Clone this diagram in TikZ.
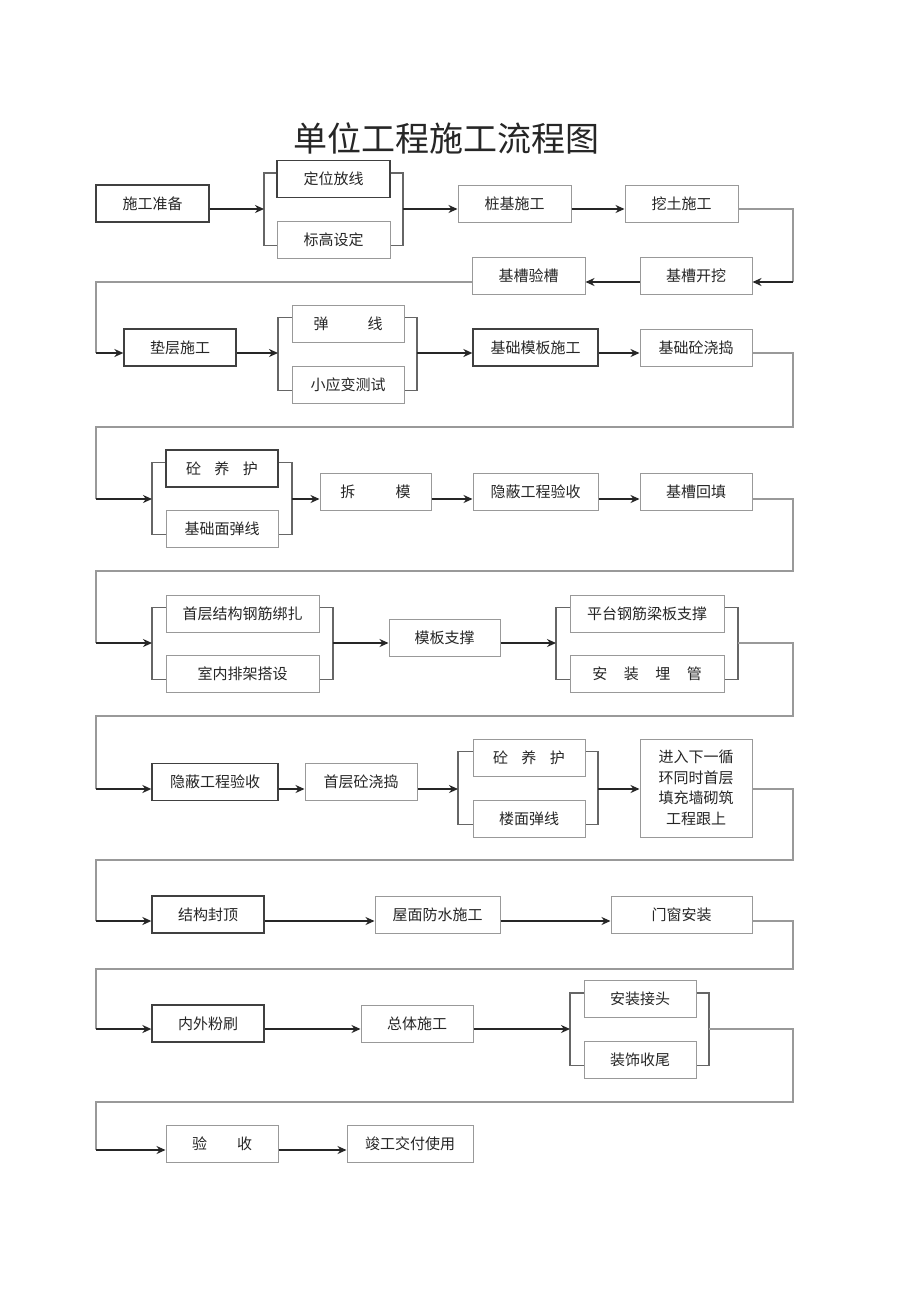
\documentclass[tikz,border=0pt]{standalone}
\usepackage{fontspec}
\newfontfamily\cjk{Noto Sans CJK SC}
\usepackage{tikz}
\usetikzlibrary{calc, positioning, arrows.meta}

\begin{document}
\begin{tikzpicture}[>={Stealth[length=9pt,width=8pt]}, x=1pt, y=-1pt,
    kuang/.style={draw=black!40, line width=1pt, fill=white, inner sep=0pt,
        minimum height=37pt, text=black!85, font=\cjk\fontsize{15}{18}\selectfont},
    shen/.style={kuang, draw=black!75, line width=1.3pt},
    kuo/.style={draw=black!60, line width=1.1pt},
    jt/.style={->, draw=black!85, line width=1.7pt},
    hui/.style={draw=black!40, line width=1.2pt}]
    % 页面范围
    \fill[white] (0,0) rectangle (920,1301);
    % 标题
    \node[font=\cjk\fontsize{34}{40}\selectfont, text=black!85] (biaoti) at (446,138) {单位工程施工流程图};

    % 各行箭头高度、折返线位置
    \coordinate (L) at (96,0);
    \coordinate (R) at (793,0);
    \foreach \n/\y in {1/209, 2/282, 3/353, 4/499, 5/643, 6/789, 7/921, 8/1029, 9/1150}
        \coordinate (r\n) at (0,\y);
    \foreach \n/\y in {1/427, 2/571, 3/716, 4/860, 5/969, 6/1102}
        \coordinate (h\n) at (0,\y);
    % 并列工序的括线
    \coordinate (k1l) at (264,209); \coordinate (k1r) at (403,209);
    \coordinate (k2l) at (278,353); \coordinate (k2r) at (417,353);
    \coordinate (k3l) at (152,499); \coordinate (k3r) at (292,499);
    \coordinate (k4l) at (152,643); \coordinate (k4r) at (333,643);
    \coordinate (k5l) at (556,643); \coordinate (k5r) at (738,643);
    \coordinate (k6l) at (458,789); \coordinate (k6r) at (598,789);
    \coordinate (k7l) at (570,1029); \coordinate (k7r) at (709,1029);

    % 第一行
    \node[shen, minimum width=113pt] (A1) at (152.5,203.5) {施工准备};
    \node[shen, minimum width=113pt] (A2) at (333.5,179) {定位放线};
    \node[kuang, minimum width=113pt] (A3) at (333.5,239.5) {标高设定};
    \node[kuang, minimum width=113pt] (A4) at (514.5,203.5) {桩基施工};
    \node[kuang, minimum width=113pt] (A5) at (681.5,203.5) {挖土施工};
    % 第二行
    \node[kuang, minimum width=112pt] (B1) at (696,275.5) {基槽开挖};
    \node[kuang, minimum width=113pt] (B2) at (528.5,275.5) {基槽验槽};
    % 第三行
    \node[shen, minimum width=112pt] (C1) at (180,347.5) {垫层施工};
    \node[kuang, minimum width=112pt] (C2) at (348,323.5) {弹\hspace*{2.6em}线};
    \node[kuang, minimum width=112pt] (C3) at (348,384.5) {小应变测试};
    \node[shen, minimum width=125pt] (C4) at (535.5,347.5) {基础模板施工};
    \node[kuang, minimum width=112pt] (C5) at (696,347.5) {基础砼浇捣};
    % 第四行
    \node[shen, minimum width=112pt] (D1) at (222,468.5) {砼\hspace*{0.9em}养\hspace*{0.9em}护};
    \node[kuang, minimum width=112pt] (D2) at (222,528.5) {基础面弹线};
    \node[kuang, minimum width=111pt] (D3) at (375.5,492) {拆\hspace*{2.7em}模};
    \node[kuang, minimum width=125pt] (D4) at (535.5,492) {隐蔽工程验收};
    \node[kuang, minimum width=112pt] (D5) at (696,492) {基槽回填};
    % 第五行
    \node[kuang, minimum width=153pt] (E1) at (242.5,613.5) {首层结构钢筋绑扎};
    \node[kuang, minimum width=153pt] (E2) at (242.5,673.5) {室内排架搭设};
    \node[kuang, minimum width=111pt] (E3) at (444.5,637.5) {模板支撑};
    \node[kuang, minimum width=154pt] (E4) at (647,613.5) {平台钢筋梁板支撑};
    \node[kuang, minimum width=154pt] (E5) at (647,673.5) {安\hspace*{1.1em}装\hspace*{1.1em}埋\hspace*{1.1em}管};
    % 第六行
    \node[shen, minimum width=126pt] (F1) at (215,782) {隐蔽工程验收};
    \node[kuang, minimum width=112pt] (F2) at (361,782) {首层砼浇捣};
    \node[kuang, minimum width=112pt] (F3) at (529,757.5) {砼\hspace*{0.9em}养\hspace*{0.9em}护};
    \node[kuang, minimum width=112pt] (F4) at (529,818.5) {楼面弹线};
    \node[kuang, minimum width=112pt, minimum height=98pt, align=center,
        font=\cjk\fontsize{15}{20.5}\selectfont] (F5) at (696,788)
        {进入下一循\\环同时首层\\填充墙砌筑\\工程跟上};
    % 第七行
    \node[shen, minimum width=112pt] (G1) at (208,914.5) {结构封顶};
    \node[kuang, minimum width=125pt] (G2) at (437.5,914.5) {屋面防水施工};
    \node[kuang, minimum width=141pt] (G3) at (681.5,914.5) {门窗安装};
    % 第八行
    \node[shen, minimum width=112pt] (H1) at (208,1023.5) {内外粉刷};
    \node[kuang, minimum width=112pt] (H2) at (417,1023.5) {总体施工};
    \node[kuang, minimum width=112pt] (H3) at (640,999) {安装接头};
    \node[kuang, minimum width=112pt] (H4) at (640,1059.5) {装饰收尾};
    % 第九行
    \node[kuang, minimum width=112pt] (I1) at (222,1143.5) {验\hspace*{2em}收};
    \node[kuang, minimum width=126pt] (I2) at (410,1143.5) {竣工交付使用};

    % 括线
    \draw[kuo] ([yshift=6pt]A2.west) -| (k1l) |- ([yshift=-6pt]A3.west);
    \draw[kuo] ([yshift=6pt]A2.east) -| (k1r) |- ([yshift=-6pt]A3.east);
    \draw[kuo] ([yshift=6pt]C2.west) -| (k2l) |- ([yshift=-6pt]C3.west);
    \draw[kuo] ([yshift=6pt]C2.east) -| (k2r) |- ([yshift=-6pt]C3.east);
    \draw[kuo] ([yshift=6pt]D1.west) -| (k3l) |- ([yshift=-6pt]D2.west);
    \draw[kuo] ([yshift=6pt]D1.east) -| (k3r) |- ([yshift=-6pt]D2.east);
    \draw[kuo] ([yshift=6pt]E1.west) -| (k4l) |- ([yshift=-6pt]E2.west);
    \draw[kuo] ([yshift=6pt]E1.east) -| (k4r) |- ([yshift=-6pt]E2.east);
    \draw[kuo] ([yshift=6pt]E4.west) -| (k5l) |- ([yshift=-6pt]E5.west);
    \draw[kuo] ([yshift=6pt]E4.east) -| (k5r) |- ([yshift=-6pt]E5.east);
    \draw[kuo] ([yshift=6pt]F3.west) -| (k6l) |- ([yshift=-6pt]F4.west);
    \draw[kuo] ([yshift=6pt]F3.east) -| (k6r) |- ([yshift=-6pt]F4.east);
    \draw[kuo] ([yshift=6pt]H3.west) -| (k7l) |- ([yshift=-6pt]H4.west);
    \draw[kuo] ([yshift=6pt]H3.east) -| (k7r) |- ([yshift=-6pt]H4.east);

    % 行内箭头
    \draw[jt] (A1.east |- r1) -- (k1l);
    \draw[jt] (k1r) -- (A4.west |- r1);
    \draw[jt] (A4.east |- r1) -- (A5.west |- r1);
    \draw[jt] (B1.west |- r2) -- (B2.east |- r2);
    \draw[jt] (C1.east |- r3) -- (k2l);
    \draw[jt] (k2r) -- (C4.west |- r3);
    \draw[jt] (C4.east |- r3) -- (C5.west |- r3);
    \draw[jt] (k3r) -- (D3.west |- r4);
    \draw[jt] (D3.east |- r4) -- (D4.west |- r4);
    \draw[jt] (D4.east |- r4) -- (D5.west |- r4);
    \draw[jt] (k4r) -- (E3.west |- r5);
    \draw[jt] (E3.east |- r5) -- (k5l);
    \draw[jt] (F1.east |- r6) -- (F2.west |- r6);
    \draw[jt] (F2.east |- r6) -- (k6l);
    \draw[jt] (k6r) -- (F5.west |- r6);
    \draw[jt] (G1.east |- r7) -- (G2.west |- r7);
    \draw[jt] (G2.east |- r7) -- (G3.west |- r7);
    \draw[jt] (H1.east |- r8) -- (H2.west |- r8);
    \draw[jt] (H2.east |- r8) -- (k7l);
    \draw[jt] (I1.east |- r9) -- (I2.west |- r9);

    % 折返线
    \draw[hui] (A5.east |- r1) -- (R |- r1) -- (R |- r2);
    \draw[jt] (R |- r2) -- (B1.east |- r2);
    \draw[hui] (B2.west |- r2) -- (L |- r2) -- (L |- r3);
    \draw[jt] (L |- r3) -- (C1.west |- r3);
    \draw[hui] (C5.east |- r3) -- (R |- r3) -- (R |- h1) -- (L |- h1) -- (L |- r4);
    \draw[jt] (L |- r4) -- (k3l);
    \draw[hui] (D5.east |- r4) -- (R |- r4) -- (R |- h2) -- (L |- h2) -- (L |- r5);
    \draw[jt] (L |- r5) -- (k4l);
    \draw[hui] (k5r) -- (R |- r5) -- (R |- h3) -- (L |- h3) -- (L |- r6);
    \draw[jt] (L |- r6) -- (F1.west |- r6);
    \draw[hui] (F5.east |- r6) -- (R |- r6) -- (R |- h4) -- (L |- h4) -- (L |- r7);
    \draw[jt] (L |- r7) -- (G1.west |- r7);
    \draw[hui] (G3.east |- r7) -- (R |- r7) -- (R |- h5) -- (L |- h5) -- (L |- r8);
    \draw[jt] (L |- r8) -- (H1.west |- r8);
    \draw[hui] (k7r) -- (R |- r8) -- (R |- h6) -- (L |- h6) -- (L |- r9);
    \draw[jt] (L |- r9) -- (I1.west |- r9);
\end{tikzpicture}
\end{document}
